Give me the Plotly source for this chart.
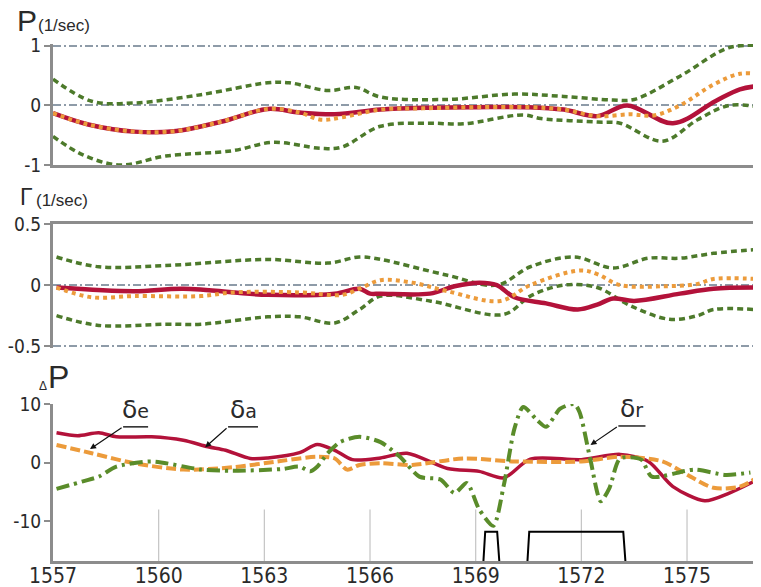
import plotly.graph_objects as go

# ---------------- data ----------------
# Panel 1: P (1/sec)
p_red_x = [1557, 1558, 1559.3, 1560.5, 1561.8, 1563.1, 1564.0, 1565.0, 1566.3, 1567.5, 1569.0, 1570.5, 1571.5, 1572.45, 1573.3, 1574.6, 1575.8, 1576.5, 1577.1]
p_red_y = [-0.13, -0.32, -0.44, -0.43, -0.27, -0.06, -0.12, -0.15, -0.07, -0.04, -0.03, -0.03, -0.07, -0.18, 0.0, -0.3, 0.07, 0.27, 0.33]
p_org_x = [1557, 1558, 1559.3, 1560.5, 1561.8, 1563.1, 1564.0, 1564.6, 1565.2, 1566.3, 1567.5, 1569.0, 1570.5, 1571.5, 1572.45, 1573.4, 1574.05, 1574.8, 1575.75, 1576.5, 1577.1]
p_org_y = [-0.13, -0.32, -0.44, -0.43, -0.27, -0.06, -0.12, -0.24, -0.2, -0.07, -0.05, -0.03, -0.03, -0.07, -0.18, -0.15, -0.17, 0.0, 0.35, 0.53, 0.52]
p_gup_x = [1557, 1558.1, 1559.3, 1561.2, 1563.1, 1563.7, 1564.8, 1565.6, 1566.3, 1568.2, 1570.1, 1571.5, 1572.9, 1573.5, 1574.8, 1576.2, 1577.1]
p_gup_y = [0.44, 0.07, 0.04, 0.18, 0.38, 0.38, 0.25, 0.3, 0.14, 0.1, 0.19, 0.15, 0.09, 0.1, 0.49, 0.97, 1.0]
p_glo_x = [1557, 1557.85, 1558.9, 1560.2, 1562.1, 1563.25, 1564.6, 1565.2, 1566.3, 1567.7, 1568.65, 1570.35, 1570.85, 1572.45, 1573.1, 1574.3, 1575.3, 1576.2, 1577.1]
p_glo_y = [-0.52, -0.83, -1.0, -0.85, -0.76, -0.62, -0.72, -0.7, -0.35, -0.3, -0.31, -0.16, -0.22, -0.28, -0.3, -0.6, -0.24, 0.0, -0.03]

# Panel 2: r (1/sec)
r_red_x = [1557.1, 1559.3, 1560.7, 1563.1, 1565.0, 1565.7, 1566.0, 1566.3, 1567.7, 1568.4, 1569.1, 1569.6, 1570.1, 1571.0, 1571.9, 1572.45, 1572.9, 1573.5, 1574.8, 1575.75, 1577.1]
r_red_y = [-0.02, -0.05, -0.03, -0.08, -0.07, -0.03, -0.07, -0.07, -0.07, -0.01, 0.02, 0.0, -0.1, -0.15, -0.2, -0.16, -0.11, -0.13, -0.07, -0.03, -0.02]
r_org_x = [1557.1, 1558.1, 1559.3, 1561.2, 1562.1, 1564.0, 1565.2, 1565.7, 1566.3, 1567.2, 1568.2, 1569.7, 1570.55, 1571.97, 1572.45, 1573.1, 1574.3, 1575.3, 1575.75, 1577.0]
r_org_y = [-0.02, -0.1, -0.09, -0.09, -0.06, -0.06, -0.08, -0.03, 0.04, 0.02, -0.05, -0.13, 0.0, 0.12, 0.09, 0.0, -0.01, 0.01, 0.05, 0.05]
r_gup_x = [1557.1, 1558.3, 1560.2, 1563.1, 1564.8, 1565.7, 1566.3, 1568.2, 1569.6, 1570.55, 1571.8, 1572.9, 1573.9, 1574.8, 1575.75, 1576.9]
r_gup_y = [0.23, 0.15, 0.16, 0.21, 0.18, 0.23, 0.21, 0.08, 0.0, 0.15, 0.23, 0.14, 0.22, 0.22, 0.26, 0.29]
r_glo_x = [1557.1, 1558.3, 1560.2, 1561.2, 1563.1, 1564.0, 1565.0, 1565.7, 1566.3, 1567.7, 1569.8, 1570.55, 1571.5, 1572.45, 1573.4, 1574.5, 1575.3, 1575.75, 1576.9]
r_glo_y = [-0.25, -0.33, -0.32, -0.32, -0.26, -0.26, -0.31, -0.2, -0.09, -0.13, -0.24, -0.09, 0.0, -0.02, -0.17, -0.28, -0.25, -0.2, -0.2]

# Panel 3: ΔP
da_x = [1557.1, 1557.7, 1558.3, 1558.8, 1559.8, 1560.7, 1561.4, 1561.9, 1562.6, 1563.1, 1564.0, 1564.5, 1565.0, 1565.5, 1566.3, 1567.05, 1568.2, 1569.1, 1569.8, 1570.55, 1572.0, 1573.1, 1573.9, 1574.6, 1575.5, 1576.2, 1577.0]
da_y = [5.1, 4.6, 5.1, 4.4, 4.4, 3.8, 2.7, 2.1, 0.7, 0.8, 1.7, 3.1, 2.1, 0.5, 0.8, 1.6, -1.0, -1.5, -2.6, 0.6, 0.5, 1.4, 0.2, -4.1, -6.5, -5.2, -2.9]
de_x = [1557.1, 1558.1, 1559.3, 1560.7, 1562.1, 1563.5, 1564.5, 1565.0, 1565.35, 1565.7, 1566.3, 1567.2, 1568.65, 1570.1, 1572.0, 1573.1, 1574.3, 1575.1, 1575.75, 1576.5, 1577.0]
de_y = [3.0, 1.6, -0.1, -1.2, -0.8, 0.3, 1.0, 0.7, -1.2, -0.4, -0.1, -0.4, 0.7, 0.2, 0.2, 1.0, 0.2, -2.4, -4.3, -4.1, -2.5]
dr_x = [1557.1, 1557.85, 1558.3, 1558.8, 1559.8, 1561.2, 1562.1, 1563.5, 1564.0, 1564.3, 1564.5, 1564.8, 1565.15, 1565.7, 1566.3, 1566.85, 1567.4, 1568.0, 1568.4, 1568.75, 1569.1, 1569.5, 1569.8, 1570.1, 1570.35, 1570.75, 1571.0, 1571.4, 1571.8, 1571.95, 1572.25, 1572.55, 1572.8, 1573.1, 1573.7, 1574.0, 1575.2, 1576.1, 1576.8]
dr_y = [-4.5, -3.2, -2.4, -0.7, 0.2, -1.2, -1.4, -1.1, -0.7, -1.5, -0.7, 1.6, 3.5, 4.4, 3.5, 1.0, -2.4, -2.9, -5.2, -3.5, -8.0, -10.8, -3.8, 5.8, 9.5, 7.2, 6.1, 9.2, 10.0, 8.6, 0.7, -6.6, -4.3, 0.7, 0.5, -2.4, -1.2, -2.1, -1.7]
pulse_x = [1569.22, 1569.27, 1569.61, 1569.67, None, 1570.47, 1570.52, 1573.19, 1573.25]
pulse_y = [-16.8, -11.8, -11.8, -16.8, None, -16.8, -11.8, -11.8, -16.8]

x_ticks = [1557, 1560, 1563, 1566, 1569, 1572, 1575]
x_range = [1557, 1577.1]
p_ticks = [-1, 0, 1]
p_labels = ["-1", "0", "1"]
r_ticks = [-0.5, 0, 0.5]
r_labels = ["-0.5", "0", "0.5"]
d_ticks = [-10, 0, 10]
d_labels = ["-10", "0", "10"]
p_range = [-1, 1.03]
r_range = [-0.515, 0.5]
d_range = [-16.8, 10]

# ---------------- styles ----------------
RED = "#b3123a"
ORG = "#ec9b3b"
GRN = "#4d7a2b"
GRN2 = "#5a8c2a"
AX = "#8c8c8c"
GRID = "#8e9ba8"
FONT = "Liberation Sans Narrow, DejaVu Sans Condensed, sans-serif"
TXT = "#2a2a2a"

# the page body adds an 8px offset; size the figure so it fills the 761x587 window
OFF = 8
W, H = 761 - OFF, 587 - OFF
ML, MR, MT, MB = 53 - OFF, 0, 0, 26
PW, PH = W - ML - MR, H - MT - MB


def fy(py):
    # py: pixel row in window coords
    return (H - MB - (py - OFF)) / PH


def fx(px):
    return (px - OFF - ML) / PW


fig = go.Figure()

dot = "4px,4px"
dash = "6px,4px"


def add(x, y, color, width, dashstyle, xa, ya, smooth=1.0):
    fig.add_trace(go.Scatter(x=x, y=y, mode="lines", xaxis=xa, yaxis=ya,
                             line=dict(color=color, width=width, dash=dashstyle,
                                       shape="spline", smoothing=smooth),
                             hoverinfo="skip", showlegend=False))


# panel 1
add(p_gup_x, p_gup_y, GRN, 3.5, dash, "x", "y")
add(p_glo_x, p_glo_y, GRN, 3.5, dash, "x", "y")
add(p_red_x, p_red_y, RED, 4.5, "solid", "x", "y")
add(p_org_x, p_org_y, ORG, 4, dot, "x", "y")
# panel 2
add(r_gup_x, r_gup_y, GRN, 3.5, dash, "x2", "y2")
add(r_glo_x, r_glo_y, GRN, 3.5, dash, "x2", "y2")
add(r_red_x, r_red_y, RED, 4.5, "solid", "x2", "y2")
add(r_org_x, r_org_y, ORG, 4, dot, "x2", "y2")
# panel 3
add(da_x, da_y, RED, 3.5, "solid", "x3", "y3", 0.8)
add(de_x, de_y, ORG, 4, "10px,4px", "x3", "y3", 0.8)
add(dr_x, dr_y, GRN2, 4, "13px,5px,3px,5px", "x3", "y3", 0.7)
fig.add_trace(go.Scatter(x=pulse_x, y=pulse_y, mode="lines", xaxis="x3", yaxis="y3",
                         line=dict(color="black", width=2), hoverinfo="skip",
                         showlegend=False, cliponaxis=False))

# vertical light grid lines in bottom panel (lower part only)
shapes = []
for t in x_ticks[1:]:
    shapes.append(dict(type="line", xref="x3", yref="y3", x0=t, x1=t, y0=-8, y1=d_range[0],
                       line=dict(color="#c4c4c4", width=1.2), layer="below"))

xtickfont = dict(family=FONT, size=21, color=TXT)
ytickfont = dict(family=FONT, size=19, color=TXT)
gd = "8px,3px,2px,3px"

common_x = dict(range=x_range, showgrid=False, zeroline=False, linecolor=AX, linewidth=3,
                automargin=False)
yc = dict(showline=True, linecolor=AX, linewidth=3, ticks="outside", ticklen=6,
          tickwidth=2, tickcolor=AX, tickfont=ytickfont, zeroline=False, automargin=False,
          ticklabelstandoff=-1)
fig.update_layout(
    width=W, height=H, margin=dict(l=ML, r=MR, t=MT, b=MB),
    paper_bgcolor="white", plot_bgcolor="white",
    xaxis=dict(**common_x, anchor="y", showline=True, showticklabels=False, ticks=""),
    xaxis2=dict(**common_x, anchor="y2", side="top", showline=True, showticklabels=False,
                ticks="", matches="x"),
    xaxis3=dict(**common_x, anchor="y3", showline=True, tickvals=x_ticks, ticks="",
                tickfont=xtickfont, matches="x", ticklabelstandoff=-6),
    yaxis=dict(**yc, domain=[fy(165), fy(44)], range=p_range, tickvals=p_ticks,
               ticktext=p_labels, showgrid=True, gridcolor=GRID, gridwidth=1.5,
               griddash=gd, anchor="x"),
    yaxis2=dict(**yc, domain=[fy(348), fy(224)], range=r_range, tickvals=r_ticks,
                ticktext=r_labels, showgrid=True, gridcolor=GRID, gridwidth=1.5,
                griddash=gd, anchor="x2"),
    yaxis3=dict(**yc, domain=[0, fy(404)], range=d_range, tickvals=d_ticks,
                ticktext=d_labels, showgrid=False, anchor="x3"),
)

ann = []


def ptext(text, px, py, size, xanchor="left", yanchor="bottom"):
    ann.append(dict(text=text, x=fx(px), y=fy(py), xref="paper", yref="paper",
                    xanchor=xanchor, yanchor=yanchor, showarrow=False,
                    font=dict(family="Liberation Sans, sans-serif", size=size, color=TXT)))


ptext("P", 15, 39, 30)
ptext("(1/sec)", 36, 37, 17)
ptext("\u0393", 18, 212, 23)
ptext("(1/sec)", 34, 212, 17)
ptext("\u0394", 37, 395, 12)
ptext("P", 46, 397, 32)

# delta labels with underline + leader arrows (data coords of panel 3)
labels = [("e", 1558.99, 1559.7, 6.1, 1558.05, 2.3),
          ("a", 1561.97, 1562.82, 6.1, 1561.32, 2.6),
          ("r", 1573.05, 1573.82, 6.25, 1572.26, 3.0)]
for sub, x0, x1, yu, xt, yt in labels:
    txt = "\u03b4<span style='font-size:19px'>" + sub + "</span>"
    ann.append(dict(text=txt, x=(x0 + x1) / 2, y=yu + 0.15, xref="x3", yref="y3",
                    xanchor="center", yanchor="bottom", showarrow=False,
                    font=dict(family="DejaVu Sans, sans-serif", size=25, color=TXT)))
    ann.append(dict(text="", x=xt, y=yt, ax=x0, ay=yu, xref="x3", yref="y3",
                    axref="x3", ayref="y3", showarrow=True, arrowhead=2,
                    arrowsize=1, arrowwidth=1.2, arrowcolor="#111"))
    shapes.append(dict(type="line", xref="x3", yref="y3", x0=x0, x1=x1, y0=yu, y1=yu,
                       line=dict(color="#222", width=1.5)))

fig.update_layout(annotations=ann, shapes=shapes)
fig.write_html("out.html")
